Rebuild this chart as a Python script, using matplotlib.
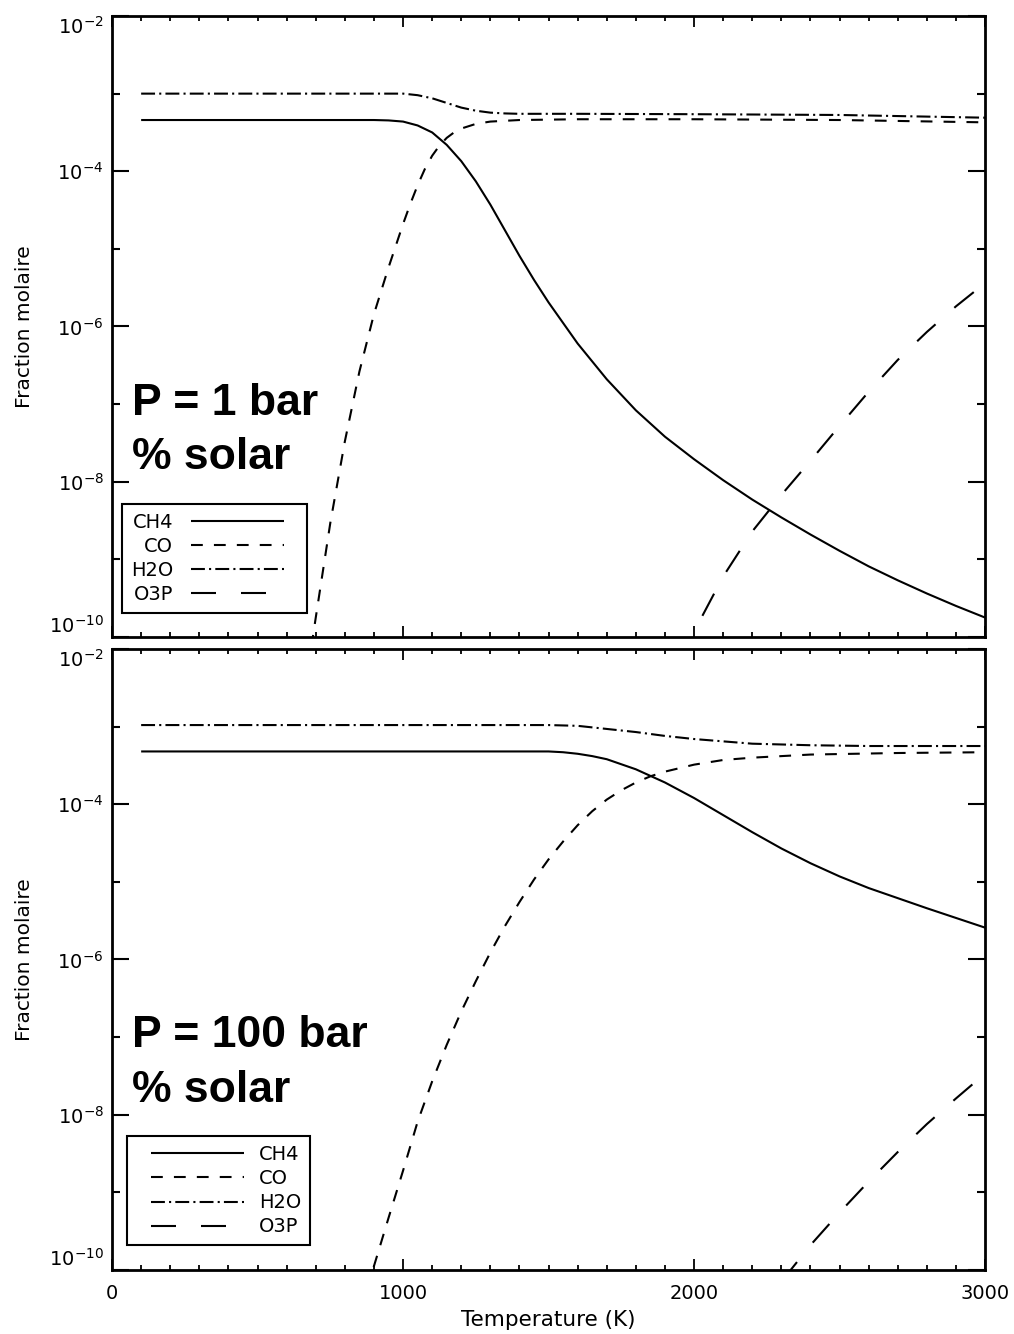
import matplotlib
matplotlib.use("Agg")
import matplotlib.pyplot as plt
from matplotlib.lines import Line2D
from matplotlib.legend_handler import HandlerLine2D
from matplotlib.ticker import FixedLocator, NullFormatter
import numpy as np

plt.rcParams["font.family"] = ["DejaVu Sans"]
plt.rcParams["mathtext.fontset"] = "dejavusans"
plt.rcParams["lines.scale_dashes"] = False

# ---- P = 1 bar (log10 of mole fraction) ----
t1_ch4 = [100, 500, 900, 950, 1000, 1050, 1100, 1150, 1200, 1250, 1300, 1350, 1400,
          1450, 1500, 1600, 1700, 1800, 1900, 2000, 2100, 2200, 2300, 2400, 2500,
          2600, 2700, 2800, 2900, 3000]
y1_ch4 = [-3.34, -3.34, -3.34, -3.345, -3.36, -3.41, -3.50, -3.66, -3.87, -4.13, -4.43,
          -4.76, -5.09, -5.40, -5.69, -6.22, -6.68, -7.08, -7.42, -7.71, -7.98, -8.23,
          -8.46, -8.68, -8.89, -9.09, -9.27, -9.44, -9.60, -9.75]

t1_co = [650, 700, 750, 800, 850, 900, 950, 1000, 1025, 1050, 1075, 1100, 1125,
         1150, 1175, 1200, 1250, 1300, 1400, 1600, 2000, 2500, 3000]
y1_co = [-11.0, -9.75, -8.53, -7.48, -6.58, -5.84, -5.24, -4.68, -4.42, -4.18, -3.97,
         -3.80, -3.67, -3.57, -3.50, -3.45, -3.39, -3.36, -3.34, -3.33, -3.33, -3.34,
         -3.37]

t1_h2o = [100, 500, 1000, 1050, 1100, 1150, 1200, 1250, 1300, 1350, 1400, 1600,
          2000, 2500, 3000]
y1_h2o = [-3.00, -3.00, -3.00, -3.02, -3.06, -3.12, -3.18, -3.22, -3.245, -3.255,
          -3.26, -3.26, -3.265, -3.275, -3.31]

t1_o3p = [1950, 2000, 2100, 2200, 2300, 2400, 2500, 2600, 2700, 2800, 2900, 3000]
y1_o3p = [-10.30, -9.93, -9.22, -8.64, -8.17, -7.73, -7.28, -6.84, -6.43, -6.07,
          -5.74, -5.44]

# ---- P = 100 bar ----
t2_ch4 = [100, 500, 1000, 1500, 1550, 1600, 1650, 1700, 1800, 1900, 2000, 2100,
          2200, 2300, 2400, 2500, 2600, 2700, 2800, 2900, 3000]
y2_ch4 = [-3.32, -3.32, -3.32, -3.32, -3.33, -3.35, -3.38, -3.42, -3.55, -3.72,
          -3.92, -4.14, -4.36, -4.57, -4.76, -4.93, -5.08, -5.21, -5.34, -5.465,
          -5.59]

t2_co = [880, 900, 950, 1000, 1050, 1100, 1150, 1200, 1250, 1300, 1350, 1400, 1450,
         1500, 1550, 1600, 1650, 1700, 1750, 1800, 1850, 1900, 2000, 2100, 2200,
         2400, 2700, 3000]
y2_co = [-10.25, -9.95, -9.33, -8.72, -8.09, -7.57, -7.10, -6.67, -6.28, -5.91,
         -5.57, -5.26, -4.97, -4.71, -4.48, -4.27, -4.09, -3.94, -3.82, -3.72, -3.64,
         -3.58, -3.49, -3.43, -3.40, -3.36, -3.34, -3.33]

t2_h2o = [100, 500, 1000, 1500, 1600, 1700, 1800, 1900, 2000, 2100, 2200, 2400,
          2600, 3000]
y2_h2o = [-2.98, -2.98, -2.98, -2.98, -2.99, -3.03, -3.07, -3.12, -3.16, -3.19,
          -3.22, -3.24, -3.25, -3.25]

t2_o3p = [2300, 2400, 2500, 2600, 2700, 2800, 2900, 3000]
y2_o3p = [-10.15, -9.68, -9.26, -8.86, -8.48, -8.12, -7.79, -7.47]

species = ["CH4", "CO", "H2O", "O3P"]
panel_lines = [["P = 1 bar", "% solar"], ["P = 100 bar", "% solar"]]
ytick_labels = [r"$10^{-10}$", r"$10^{-8}$", r"$10^{-6}$", r"$10^{-4}$", r"$10^{-2}$"]
xtick_labels = ["0", "1000", "2000", "3000"]

# line styles (dash lengths in points)
styles = {
    "CH4": "-",
    "CO": (0, (8.5, 8.0)),
    "H2O": (0, (10.0, 3.0, 1.5, 3.0)),
    "O3P": (0, (18.0, 18.0)),
}
LW = 1.5
LEG_FS = 14


class PaddedLineHandler(HandlerLine2D):
    """Legend line handler leaving blank space on one side of the sample."""

    def __init__(self, pad_left=0.0, pad_right=0.0, **kw):
        super().__init__(**kw)
        self.pad_left = pad_left
        self.pad_right = pad_right

    def get_xdata(self, legend, xdescent, ydescent, width, height, fontsize):
        x0 = -xdescent + self.pad_left * fontsize
        x1 = -xdescent + width - self.pad_right * fontsize
        xd = np.array([x0, x1])
        return xd, xd


fig = plt.figure(figsize=(10.14, 13.34), dpi=100)
ax1 = fig.add_axes([0.1105, 0.5225, 0.8610, 0.4655])
ax2 = fig.add_axes([0.1105, 0.0480, 0.8610, 0.4655])

panels = [
    (ax1, [(t1_ch4, y1_ch4), (t1_co, y1_co), (t1_h2o, y1_h2o), (t1_o3p, y1_o3p)]),
    (ax2, [(t2_ch4, y2_ch4), (t2_co, y2_co), (t2_h2o, y2_h2o), (t2_o3p, y2_o3p)]),
]

for ax, series in panels:
    for name, (t, y) in zip(species, series):
        ax.plot(t, 10.0 ** np.array(y), color="black", lw=LW,
                linestyle=styles[name], label=name, solid_capstyle="butt",
                dash_capstyle="butt")
    ax.set_yscale("log")
    ax.set_xlim(0, 3000)
    ax.set_ylim(1e-10, 1e-2)
    for sp in ax.spines.values():
        sp.set_linewidth(2.0)
    ax.yaxis.set_major_locator(FixedLocator([1e-10, 1e-8, 1e-6, 1e-4, 1e-2]))
    ax.yaxis.set_minor_locator(FixedLocator([1e-9, 1e-7, 1e-5, 1e-3]))
    ax.yaxis.set_minor_formatter(NullFormatter())
    ax.set_yticklabels(ytick_labels)
    ax.set_xticks([0, 1000, 2000, 3000])
    ax.set_xticks(np.arange(0, 3001, 100), minor=True)
    ax.tick_params(axis="both", which="both", direction="in", top=True,
                   right=True, color="black")
    ax.tick_params(axis="y", which="major", length=12.5, width=1.5,
                   labelsize=14, pad=6)
    ax.tick_params(axis="y", which="minor", length=6, width=1.5)
    ax.tick_params(axis="x", which="major", length=8, width=1.3,
                   labelsize=14, pad=10)
    ax.tick_params(axis="x", which="minor", length=3.6, width=1.3)
    ax.set_ylabel("Fraction molaire", fontsize=14.5)
    ax.yaxis.set_label_coords(-0.0893, 0.5)
    labs = ax.get_yticklabels()
    labs[0].set_verticalalignment("bottom")
    labs[-1].set_verticalalignment("top")

ax1.tick_params(axis="x", which="both", labelbottom=False)
ax2.set_xticklabels(xtick_labels)
ax2.set_xlabel("Temperature (K)", fontsize=15.5)
ax2.xaxis.set_label_coords(0.5, -0.064)

# Panel annotations
for ax, lines, ys in [(ax1, panel_lines[0], (0.358, 0.270)),
                      (ax2, panel_lines[1], (0.359, 0.271))]:
    for txt, yy in zip(lines, ys):
        ax.text(0.023, yy, txt, transform=ax.transAxes, fontsize=32,
                fontweight="bold", family="Liberation Sans",
                va="baseline", ha="left")

# Legends
leg1 = ax1.legend(loc="lower left", bbox_to_anchor=(0.0115, 0.0386),
                  markerfirst=False, handlelength=5.55, fontsize=LEG_FS,
                  frameon=True, fancybox=False, edgecolor="black",
                  labelspacing=0.26, handletextpad=0.9, borderpad=0.45,
                  borderaxespad=0, framealpha=1,
                  handler_map={Line2D: PaddedLineHandler(pad_right=0.77)})
leg1.get_frame().set_linewidth(1.5)
leg2 = ax2.legend(loc="lower left", bbox_to_anchor=(0.0172, 0.040),
                  markerfirst=True, handlelength=5.55, fontsize=LEG_FS,
                  frameon=True, fancybox=False, edgecolor="black",
                  labelspacing=0.26, handletextpad=0.8, borderpad=0.45,
                  borderaxespad=0, framealpha=1,
                  handler_map={Line2D: PaddedLineHandler(pad_left=0.77)})
leg2.get_frame().set_linewidth(1.5)

fig.savefig("out.png", dpi=100, facecolor="white")
